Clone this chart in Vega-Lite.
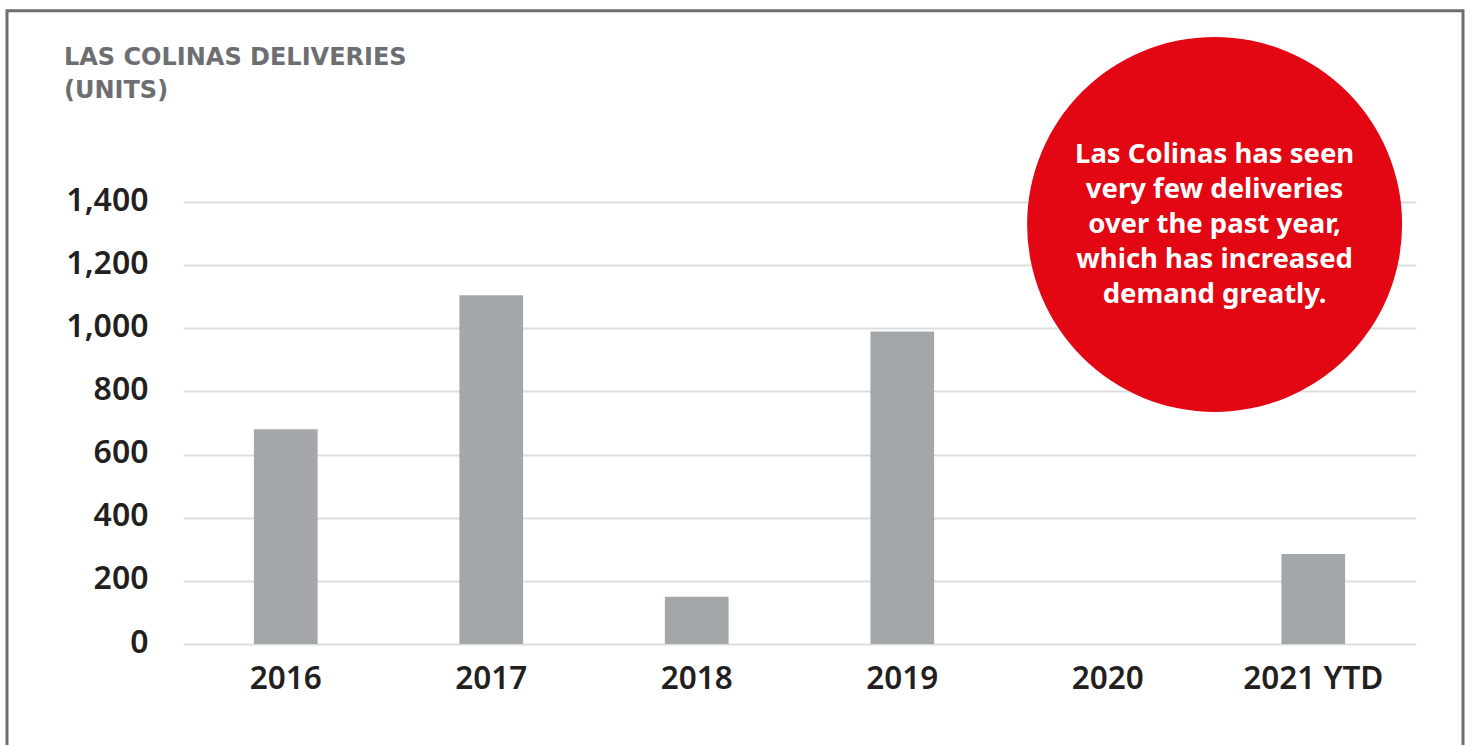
{
  "$schema": "https://vega.github.io/schema/vega-lite/v6.json",
  "width": 1233,
  "height": 442,
  "autosize": {"type": "none"},
  "padding": {"left": 183, "top": 202, "right": 56, "bottom": 101},
  "background": "white",
  "config": {"view": {"stroke": null}, "font": "Noto Sans"},
  "title": {
    "text": ["LAS COLINAS DELIVERIES", "(UNITS)"],
    "anchor": "start",
    "frame": "group",
    "dx": -119,
    "dy": 94,
    "offset": 0,
    "font": "DejaVu Sans",
    "fontSize": 24,
    "fontWeight": "bold",
    "color": "#6d6e71",
    "lineHeight": 33
  },
  "layer": [
    {
      "data": {
        "values": [
          {"year": "2016", "units": 680},
          {"year": "2017", "units": 1105},
          {"year": "2018", "units": 150},
          {"year": "2019", "units": 990},
          {"year": "2020", "units": 0},
          {"year": "2021 YTD", "units": 285}
        ]
      },
      "mark": {"type": "bar", "color": "#a4a7aa"},
      "encoding": {
        "x": {
          "field": "year",
          "type": "nominal",
          "sort": null,
          "scale": {"paddingInner": 0.69, "paddingOuter": 0.345},
          "axis": {
            "title": null,
            "labelAngle": 0,
            "domain": false,
            "ticks": false,
            "labelFont": "Noto Sans",
            "labelFontSize": 31.5,
            "labelFontWeight": 600,
            "labelColor": "#231f20",
            "labelPadding": 19
          }
        },
        "y": {
          "field": "units",
          "type": "quantitative",
          "scale": {"domain": [0, 1400], "nice": false},
          "axis": {
            "title": null,
            "values": [0, 200, 400, 600, 800, 1000, 1200, 1400],
            "format": ",.0f",
            "domain": false,
            "ticks": false,
            "grid": true,
            "gridColor": "#dcdddd",
            "gridWidth": 2,
            "labelFont": "Noto Sans",
            "labelFontSize": 32,
            "labelFontWeight": 600,
            "labelColor": "#231f20",
            "labelPadding": 35,
            "labelOffset": -2
          }
        }
      }
    },
    {
      "data": {
        "values": [
          {"note": "Las Colinas has seen\nvery few deliveries\nover the past year,\nwhich has increased\ndemand greatly."}
        ]
      },
      "layer": [
        {
          "mark": {"type": "rect", "filled": false, "stroke": "#6d6e71", "strokeWidth": 3},
          "encoding": {
            "x": {"datum": -0.8565, "type": "quantitative", "scale": {"domain": [0, 6], "nice": false, "zero": false}, "axis": null},
            "x2": {"datum": 6.2287},
            "y": {"datum": 2006, "type": "quantitative"},
            "y2": {"datum": -800}
          }
        },
        {
          "mark": {"type": "point", "shape": "circle", "filled": true, "size": 140625, "color": "#e30613", "opacity": 1, "strokeWidth": 0},
          "encoding": {
            "x": {"datum": 5.02, "type": "quantitative"},
            "y": {"datum": 1329, "type": "quantitative"}
          }
        },
        {
          "mark": {"type": "text", "color": "white", "font": "Noto Sans", "fontWeight": "bold", "fontSize": 27.5, "lineHeight": 35, "lineBreak": "\n", "align": "center", "baseline": "alphabetic"},
          "encoding": {
            "x": {"datum": 5.02, "type": "quantitative"},
            "y": {"datum": 1523, "type": "quantitative"},
            "text": {"field": "note", "type": "nominal"}
          }
        }
      ]
    }
  ],
  "resolve": {"scale": {"x": "independent"}}
}
